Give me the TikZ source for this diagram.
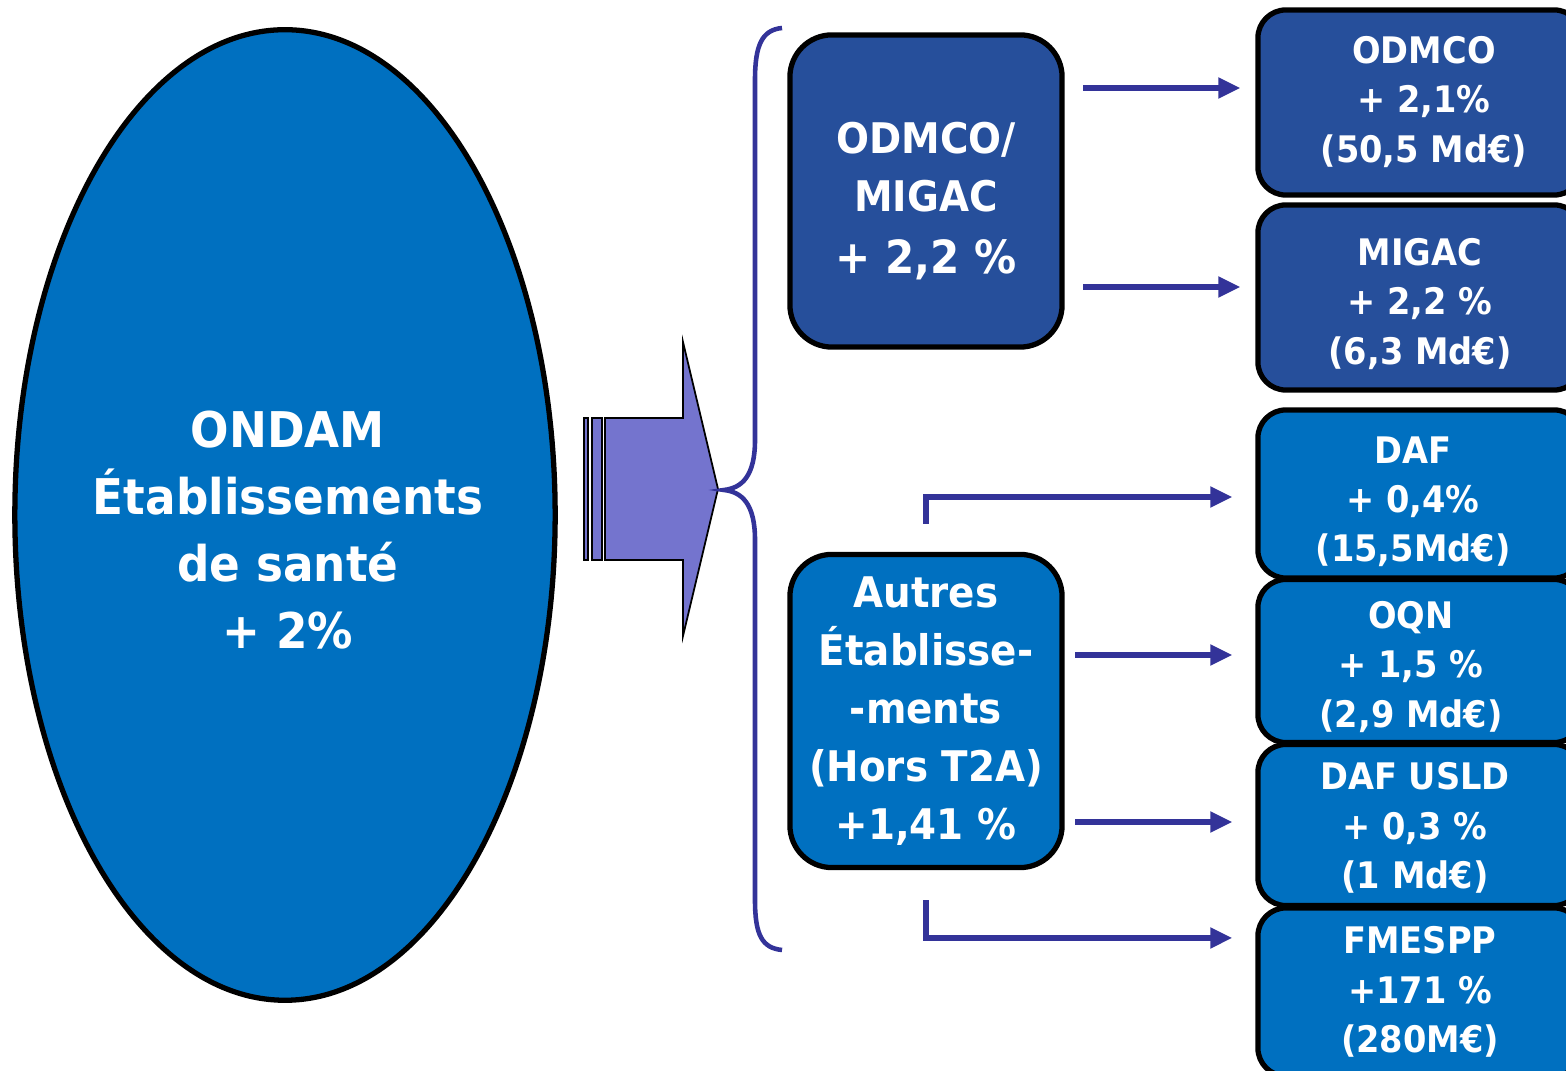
\documentclass[tikz,border=0pt]{standalone}
\usepackage{fontspec}
\setmainfont{DejaVu Sans}[FakeStretch=0.92]
\usetikzlibrary{shapes.geometric,arrows.meta,calc}
\definecolor{lightblue}{RGB}{0,112,192}
\definecolor{darkblue}{RGB}{38,79,155}
\definecolor{arrowfill}{RGB}{116,116,206}
\definecolor{linkblue}{RGB}{51,51,153}
\tikzset{
  bigbox/.style={draw=black, line width=1.5pt, rounded corners=0.42cm, minimum width=2.72cm, inner sep=0pt},
  smallbox/.style={draw=black, line width=1.5pt, rounded corners=0.28cm, minimum width=3.24cm, inner sep=0pt},
  bigtext/.style={text=white, align=center, inner sep=0pt, font=\fontsize{12}{16.5}\selectfont\bfseries},
  smalltext/.style={text=white, align=center, inner sep=0pt, font=\fontsize{10.4}{14}\selectfont\bfseries},
  arr/.style={draw=linkblue, line width=1.45pt, -{Triangle[length=0.22cm,width=0.2cm]}},
}
\begin{document}
\begin{tikzpicture}[x=0.01cm,y=-0.01cm]
\useasboundingbox (0,0) rectangle (1566,1071);
\clip (0,0) rectangle (1566,1071);
\fill[white] (0,0) rectangle (1566,1071);

% big ellipse
\node[ellipse, draw=black, line width=1.5pt, fill=lightblue, minimum width=5.4cm, minimum height=9.7cm, inner sep=0pt] (ondam) at (285,515) {};
\node[text=white, align=center, font=\fontsize{14}{19}\selectfont\bfseries] (ondamtxt) at (288,530) {ONDAM\\Établissements\\de santé\\+ 2\%};

% block arrow
\filldraw[fill=arrowfill, draw=black, line width=0.5pt] (605,418) -- (683,418) -- (683,342) -- (718,489) -- (683,636) -- (683,560) -- (605,560) -- cycle;
\filldraw[fill=arrowfill, draw=black, line width=0.5pt] (584,418) rectangle (588,560);
\filldraw[fill=arrowfill, draw=black, line width=0.5pt] (592,418) rectangle (602,560);

% brace
\draw[linkblue, line width=1.3pt] (782,28) .. controls (762,30) and (755,45) .. (755,80) -- (755,440)
  .. controls (755,476) and (742,488) .. (724,490)
  .. controls (742,492) and (755,504) .. (755,540) -- (755,900)
  .. controls (755,935) and (762,948) .. (782,950);

% middle boxes
\node[bigbox, fill=darkblue, minimum height=3.12cm] (m1) at (926,191) {};
\node[bigtext, yshift=-0.1cm] (m1txt) at (m1) {ODMCO/\\MIGAC\\[1pt]{\fontsize{13}{16.5}\selectfont + 2,2 \%}};
\node[bigbox, fill=lightblue, minimum height=3.13cm] (m2) at (926,711) {};
\node[bigtext] (m2txt) at (m2) {Autres\\Établisse-\\-ments\\(Hors T2A)\\+1,41 \%};

% right boxes
\node[smallbox, fill=darkblue, minimum height=1.85cm] (r1) at (1420,102.5) {};
\node[smallbox, fill=darkblue, minimum height=1.85cm] (r2) at (1420,297.5) {};
\node[smallbox, fill=lightblue, minimum height=1.68cm] (r3) at (1420,494) {};
\node[smallbox, fill=lightblue, minimum height=1.63cm] (r4) at (1420,661) {};
\node[smallbox, fill=lightblue, minimum height=1.61cm] (r5) at (1420,825) {};
\node[smallbox, fill=lightblue, minimum height=1.68cm] (r6) at (1420,992) {};
\node[smalltext] (r1txt) at (1424,102) {ODMCO\\+ 2,1\%\\(50,5 Md€)};
\node[smalltext] (r2txt) at (1420,304) {MIGAC\\+ 2,2 \%\\(6,3 Md€)};
\node[smalltext] (r3txt) at (1413,502) {DAF\\+ 0,4\%\\(15,5Md€)};
\node[smalltext] (r4txt) at (1411,667) {OQN\\+ 1,5 \%\\(2,9 Md€)};
\node[smalltext] (r5txt) at (1415,828) {DAF USLD\\+ 0,3 \%\\(1 Md€)};
\node[smalltext] (r6txt) at (1420,992) {FMESPP\\+171 \%\\(280M€)};

% connectors
\coordinate (s1) at (1083,88);
\coordinate (s2) at (1083,287);
\coordinate (s4) at (1075,655);
\coordinate (s5) at (1075,822);
\draw[arr, shorten >=0.15cm] (s1) -- (s1 -| r1.west);
\draw[arr, shorten >=0.15cm] (s2) -- (s2 -| r2.west);
\draw[arr, shorten <=0.28cm, shorten >=0.23cm] (m2.north) |- ([yshift=-0.03cm]r3.west);
\draw[arr, shorten >=0.23cm] (s4) -- (s4 -| r4.west);
\draw[arr, shorten >=0.23cm] (s5) -- (s5 -| r5.west);
\draw[arr, shorten <=0.3cm, shorten >=0.23cm] (m2.south) |- ([yshift=0.54cm]r6.west);
\end{tikzpicture}
\end{document}
